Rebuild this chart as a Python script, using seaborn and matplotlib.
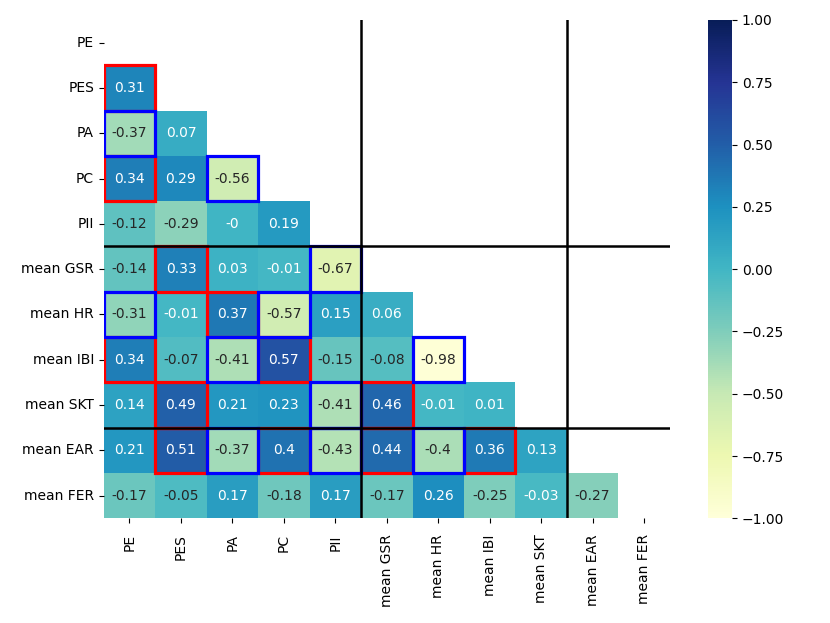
import numpy as np
import pandas as pd
import matplotlib
matplotlib.use('Agg')
import matplotlib.pyplot as plt
from matplotlib.patches import Rectangle
import seaborn as sns

# variables
labels = ['PE', 'PES', 'PA', 'PC', 'PII', 'mean GSR', 'mean HR', 'mean IBI',
          'mean SKT', 'mean EAR', 'mean FER']

# lower triangle of the correlation matrix, row by row
rows = [
    [],
    [0.31],
    [-0.37, 0.07],
    [0.34, 0.29, -0.56],
    [-0.12, -0.29, -0.0, 0.19],
    [-0.14, 0.33, 0.03, -0.01, -0.67],
    [-0.31, -0.01, 0.37, -0.57, 0.15, 0.06],
    [0.34, -0.07, -0.41, 0.57, -0.15, -0.08, -0.98],
    [0.14, 0.49, 0.21, 0.23, -0.41, 0.46, -0.01, 0.01],
    [0.21, 0.51, -0.37, 0.4, -0.43, 0.44, -0.4, 0.36, 0.13],
    [-0.17, -0.05, 0.17, -0.18, 0.17, -0.17, 0.26, -0.25, -0.03, -0.27],
]

# significant cells (row, col)
sig_pos = [(1, 0), (3, 0), (5, 1), (6, 2), (7, 0), (7, 3), (8, 1), (8, 5),
           (9, 1), (9, 3), (9, 5), (9, 7)]
sig_neg = [(2, 0), (3, 2), (5, 4), (6, 0), (6, 3), (7, 2), (7, 6), (8, 4),
           (9, 2), (9, 4), (9, 6)]

# group boundaries
vlines = [5, 9]
hlines = [5, 9]

#%%
n = len(labels)
corr = np.full((n, n), np.nan)
for i, r in enumerate(rows):
    corr[i, :len(r)] = r
# fill symmetric part so mask is the only thing hiding it
corr = np.where(np.isnan(corr), corr.T, corr)
np.fill_diagonal(corr, 1.0)
df_corr = pd.DataFrame(corr, index=labels, columns=labels)
mask = np.triu(np.ones_like(corr, dtype=bool))

fig = plt.figure(figsize=(8.3, 6.23), dpi=100)
ax = fig.add_axes([0.125, 0.168, 0.682, 0.8])
cax = fig.add_axes([0.853, 0.168, 0.029, 0.8])

sns.heatmap(df_corr, mask=mask, cmap='YlGnBu', vmin=-1, vmax=1, annot=True,
            ax=ax, cbar_ax=cax)

for (i, j) in sig_pos:
    ax.add_patch(Rectangle((j, i), 1, 1, fill=False, edgecolor='red', lw=2.3, zorder=3))
for (i, j) in sig_neg:
    ax.add_patch(Rectangle((j, i), 1, 1, fill=False, edgecolor='blue', lw=2.3, zorder=3))

for x in vlines:
    ax.axvline(x, color='black', lw=1.8, zorder=4)
for y in hlines:
    ax.axhline(y, color='black', lw=1.8, zorder=4)

ax.set_xticklabels(labels, rotation=90)
ax.set_yticklabels(labels, rotation=0)
ax.tick_params(axis='x', pad=8)
cax.set_yticks(np.arange(-1, 1.01, 0.25))

plt.savefig('out.png', dpi=100)
